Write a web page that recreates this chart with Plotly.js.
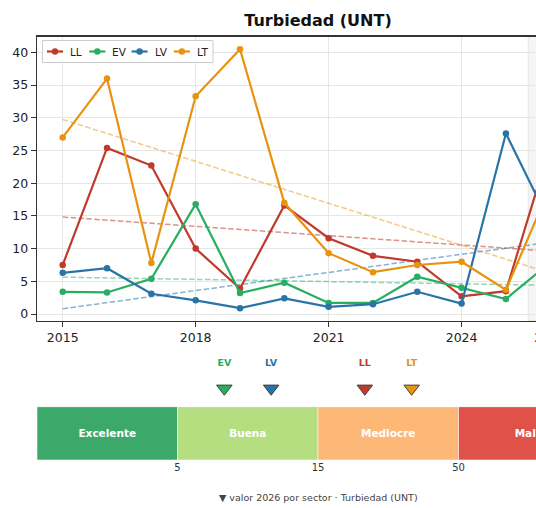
<!DOCTYPE html>
<html>
<head>
<meta charset="utf-8">
<script src="https://cdn.plot.ly/plotly-3.0.1.min.js"></script>
<style>
  html, body { margin: 0; padding: 0; overflow: hidden; background: #ffffff; }
  #chart { width: 640px; height: 508px; }
</style>
</head>
<body>
<div id="chart"></div>
<script>
// ---- data ----
const years = [2015, 2016, 2017, 2018, 2019, 2020, 2021, 2022, 2023, 2024, 2025, 2026];
const sectors = ["LL", "EV", "LV", "LT"];
const LL = [7.5, 25.4, 22.7, 10.0, 3.9, 16.6, 11.6, 8.9, 8.0, 2.7, 3.5, 25.8];
const EV = [3.4, 3.3, 5.4, 16.8, 3.2, 4.8, 1.7, 1.7, 5.7, 4.0, 2.3, 7.9];
const LV = [6.3, 7.0, 3.1, 2.1, 0.9, 2.4, 1.1, 1.5, 3.4, 1.6, 27.6, 13.8];
const LT = [27.0, 36.0, 7.8, 33.3, 40.5, 17.0, 9.3, 6.4, 7.5, 8.0, 3.7, 19.5];
const xTicks = [2015, 2018, 2021, 2024, 2026];
const bands = ["Excelente", "Buena", "Mediocre", "Mala"];
const bandLimits = [5, 15, 50];
const title = "Turbiedad (UNT)";
const caption = "▼ valor 2026 por sector · Turbiedad (UNT)";

// ---- styles ----
const series = { LL: LL, EV: EV, LV: LV, LT: LT };
const colors = { LL: "#c0392b", EV: "#27ae60", LV: "#2874a6", LT: "#e8930f" };
const trendColors = { LL: "rgba(192,57,43,0.55)", EV: "rgba(39,174,96,0.5)", LV: "rgba(40,116,166,0.55)", LT: "rgba(232,147,15,0.5)" };
const bandColors = ["#3ca86a", "#b5de80", "#fdb878", "#e0514a"];
const FONT = "DejaVu Sans, Liberation Sans, sans-serif";

const W = 640, H = 508, ML = 37, MR = 41;
const PW = W - ML - MR;
const px2x = p => (p - ML) / PW;
const px2y = p => 1 - p / H;

function trend(xs, ys) {
  const n = xs.length;
  const mx = xs.reduce((a, b) => a + b, 0) / n;
  const my = ys.reduce((a, b) => a + b, 0) / n;
  let sxy = 0, sxx = 0;
  for (let i = 0; i < n; i++) { sxy += (xs[i] - mx) * (ys[i] - my); sxx += (xs[i] - mx) ** 2; }
  const b = sxy / sxx, a = my - b * mx;
  return xs.map(x => a + b * x);
}

const traces = [];
// trend lines
sectors.forEach(s => {
  traces.push({
    type: "scatter", mode: "lines", x: years, y: trend(years, series[s]),
    line: { color: trendColors[s], width: 1.5, dash: "5.5px,2.4px" },
    hoverinfo: "skip", showlegend: false, xaxis: "x", yaxis: "y"
  });
});
// data lines
sectors.forEach(s => {
  traces.push({
    type: "scatter", mode: "lines+markers", name: s, x: years, y: series[s],
    line: { color: colors[s], width: 2.2 },
    marker: { color: colors[s], size: 6.5 },
    showlegend: false, xaxis: "x", yaxis: "y"
  });
});

// gauge bars
traces.push({
  type: "bar", x: bands.map((_, i) => i + 0.5), y: bands.map(() => 1), width: 1,
  marker: { color: bandColors, line: { color: "rgba(255,255,255,0.7)", width: 0.8 } },
  text: bands, textposition: "inside", insidetextanchor: "middle", textangle: 0,
  constraintext: "none",
  textfont: { color: "#ffffff", size: 10.5, family: FONT, weight: "bold" },
  hoverinfo: "skip", showlegend: false, xaxis: "x2", yaxis: "y2"
});

// 2026 markers in gauge
const last = years.length - 1;
const cat = v => { let c = 0; while (c < bandLimits.length && v >= bandLimits[c]) c++; return c; };
const groups = bands.map(() => []);
sectors.forEach(s => groups[cat(series[s][last])].push(s));
const mx = [], ms = [];
groups.forEach((g, c) => g.forEach((s, k) => { mx.push(c + (k + 1) / (g.length + 1)); ms.push(s); }));
traces.push({
  type: "scatter", mode: "markers", x: mx, y: ms.map(() => 0.23),
  marker: { symbol: "triangle-down", size: 13.5, color: ms.map(s => colors[s]), line: { color: "#444", width: 1 } },
  hoverinfo: "skip", showlegend: false, xaxis: "x2", yaxis: "y3", cliponaxis: false
});
traces.push({
  type: "scatter", mode: "text", x: mx, y: ms.map(() => 0.72), text: ms,
  textfont: { color: ms.map(s => colors[s]), size: 9.5, family: FONT, weight: "bold" },
  hoverinfo: "skip", showlegend: false, xaxis: "x2", yaxis: "y3", cliponaxis: false
});

// custom legend
const shapes = [];
const annotations = [];
shapes.push({ type: "rect", xref: "paper", yref: "paper", x0: px2x(42.5), x1: px2x(213), y0: px2y(62.5), y1: px2y(40.5),
  line: { color: "#cccccc", width: 1 }, fillcolor: "rgba(255,255,255,0.85)", layer: "above" });
sectors.forEach((s, i) => {
  const x0 = 47 + 42.3 * i;
  shapes.push({ type: "line", xref: "paper", yref: "paper", x0: px2x(x0), x1: px2x(x0 + 16), y0: px2y(51.5), y1: px2y(51.5),
    line: { color: colors[s], width: 2.2 }, layer: "above" });
  shapes.push({ type: "circle", xref: "paper", yref: "paper", xsizemode: "pixel", ysizemode: "pixel",
    xanchor: px2x(x0 + 8), yanchor: px2y(51.5), x0: -3.2, x1: 3.2, y0: -3.2, y1: 3.2,
    fillcolor: colors[s], line: { width: 0 }, layer: "above" });
  annotations.push({ xref: "paper", yref: "paper", x: px2x(x0 + 21), y: px2y(51.5), xanchor: "left", yanchor: "middle",
    text: s, showarrow: false, font: { family: FONT, size: 10.5, color: "#222" } });
});

// 2026 highlight span
shapes.push({ type: "rect", xref: "x", yref: "paper", x0: 2025.5, x1: 2026.5, y0: px2y(320.9), y1: px2y(36.7),
  fillcolor: "rgba(0,0,0,0.04)", line: { color: "rgba(0,0,0,0.08)", width: 1 }, layer: "below" });

annotations.push({ xref: "paper", yref: "paper", x: 0.5, y: px2y(497), xanchor: "center", yanchor: "middle",
  text: caption, showarrow: false, font: { family: FONT, size: 9.5, color: "#444" } });

const layout = {
  width: W, height: H,
  margin: { l: ML, r: MR, t: 0, b: 0, pad: 0 },
  paper_bgcolor: "#ffffff", plot_bgcolor: "#ffffff",
  font: { family: FONT, color: "#222" },
  showlegend: false,
  title: { text: "<b>" + title + "</b>", x: 0.5, xref: "paper", y: px2y(20), yref: "container", yanchor: "middle", xanchor: "center",
    font: { family: FONT, size: 16, color: "#111" } },
  xaxis: {
    domain: [0, 1], anchor: "y", range: [2014.42, 2027.1],
    tickvals: xTicks, ticktext: xTicks.map(String),
    showgrid: true, gridcolor: "#e6e6e6", gridwidth: 1, zeroline: false,
    showline: true, mirror: true, linecolor: "#333", linewidth: 1.3,
    ticks: "outside", ticklen: 5, tickcolor: "#333", tickwidth: 1,
    tickfont: { family: FONT, size: 12.5, color: "#222" }
  },
  yaxis: {
    domain: [px2y(320.9), px2y(36.7)], anchor: "x", range: [-1.05, 42.4],
    tickvals: [0, 5, 10, 15, 20, 25, 30, 35, 40],
    showgrid: true, gridcolor: "#e6e6e6", gridwidth: 1, zeroline: false,
    showline: true, mirror: true, linecolor: "#333", linewidth: 1.3,
    ticks: "outside", ticklen: 5, tickcolor: "#333", tickwidth: 1,
    tickfont: { family: FONT, size: 12.5, color: "#222" }
  },
  xaxis2: {
    domain: [0, 1], anchor: "y2", range: [0, 4],
    tickvals: bandLimits.map((_, i) => i + 1), ticktext: bandLimits.map(String),
    showgrid: false, zeroline: false, showline: false, ticks: "",
    tickfont: { family: FONT, size: 10, color: "#333" }
  },
  yaxis2: { domain: [px2y(460), px2y(406.7)], anchor: "x2", range: [0, 1], visible: false },
  yaxis3: { domain: [px2y(400), px2y(350)], anchor: "x2", range: [0, 1], visible: false },
  shapes: shapes,
  annotations: annotations,
  bargap: 0
};

Plotly.newPlot("chart", traces, layout, { displayModeBar: false, staticPlot: true });
</script>
</body>
</html>
